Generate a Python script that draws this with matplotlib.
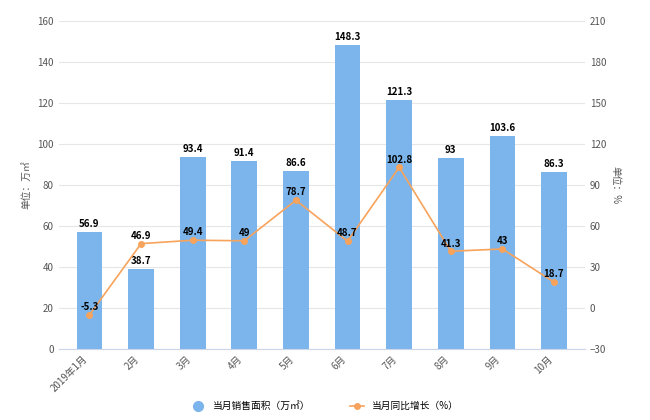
import numpy as np
import matplotlib
matplotlib.use("Agg")
import matplotlib.pyplot as plt
from matplotlib.lines import Line2D

plt.rcParams['font.family'] = ['Noto Sans CJK SC', 'DejaVu Sans']

months = ['2019年1月', '2月', '3月', '4月', '5月', '6月', '7月', '8月', '9月', '10月']
area = [56.9, 38.7, 93.4, 91.4, 86.6, 148.3, 121.3, 93, 103.6, 86.3]
growth = [-5.3, 46.9, 49.4, 49, 78.7, 48.7, 102.8, 41.3, 43, 18.7]
area_labels = ['56.9', '38.7', '93.4', '91.4', '86.6', '148.3', '121.3', '93', '103.6', '86.3']
growth_labels = ['-5.3', '46.9', '49.4', '49', '78.7', '48.7', '102.8', '41.3', '43', '18.7']

fig, ax = plt.subplots(figsize=(6.5, 4.2), dpi=100)
fig.subplots_adjust(left=0.09, right=0.9, top=0.95, bottom=0.17)
x = np.arange(len(months))

ax.bar(x, area, width=0.5, color='#7cb5ec', zorder=2)
ax.set_ylim(0, 160)
ax.set_yticks(range(0, 161, 20))
ax.set_xlim(-0.6, len(months) - 0.4)
ax.set_xticks(x)
ax.set_xticklabels(months, rotation=45, ha='right', fontsize=7)
ax.grid(axis='y', color='#e6e6e6', lw=0.8, zorder=0)
ax.set_ylabel('单位：万㎡', fontsize=7, color='#555555')
for s in ['top', 'right', 'left']:
    ax.spines[s].set_visible(False)
ax.spines['bottom'].set_color('#ccd6eb')
ax.tick_params(axis='both', labelsize=7, colors='#555555', length=0)
for xi, v, t in zip(x, area, area_labels):
    ax.text(xi, v + 1.5, t, ha='center', va='bottom', fontsize=7, fontweight='bold')

ax2 = ax.twinx()
ax2.plot(x, growth, color='#f7a35c', marker='o', ms=4, lw=1.2)
ax2.set_ylim(-30, 210)
ax2.set_yticks(range(-30, 211, 30))
ax2.set_ylabel('单位：%', fontsize=7, color='#555555', rotation=270, labelpad=10)
for s in ['top', 'right', 'left', 'bottom']:
    ax2.spines[s].set_visible(False)
ax2.tick_params(axis='y', labelsize=7, colors='#555555', length=0)
for xi, v, t in zip(x, growth, growth_labels):
    ax2.text(xi, v + 2, t, ha='center', va='bottom', fontsize=7, fontweight='bold')

handles = [
    Line2D([], [], ls='none', marker='o', ms=7, color='#7cb5ec'),
    Line2D([], [], color='#f7a35c', marker='o', ms=4, lw=1.2),
]
fig.legend(handles, ['当月销售面积（万㎡）', '当月同比增长（%）'], loc='lower center', ncol=2,
           frameon=False, fontsize=7, bbox_to_anchor=(0.5, 0.0), handlelength=1.5, columnspacing=4)

fig.savefig('out.png')
